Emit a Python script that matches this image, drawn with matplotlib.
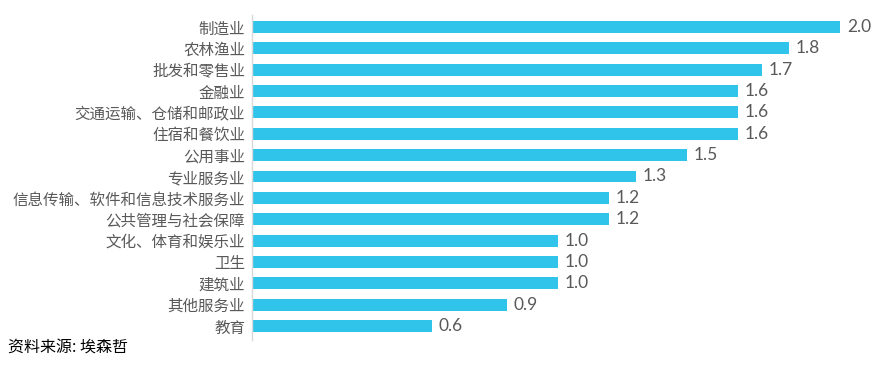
import matplotlib
matplotlib.use("Agg")
import matplotlib.pyplot as plt

plt.rcParams['font.family'] = ['Noto Sans CJK SC', 'DejaVu Sans']

# data (bar lengths, labels as printed)
industries = ["制造业", "农林渔业", "批发和零售业", "金融业", "交通运输、仓储和邮政业",
              "住宿和餐饮业", "公用事业", "专业服务业", "信息传输、软件和信息技术服务业",
              "公共管理与社会保障", "文化、体育和娱乐业", "卫生", "建筑业", "其他服务业", "教育"]
values = [1.96, 1.79, 1.70, 1.62, 1.62, 1.62, 1.45, 1.28, 1.19, 1.19,
          1.02, 1.02, 1.02, 0.85, 0.60]
value_labels = ["2.0", "1.8", "1.7", "1.6", "1.6", "1.6", "1.5", "1.3", "1.2", "1.2",
                "1.0", "1.0", "1.0", "0.9", "0.6"]

W, H = 882, 382
fig = plt.figure(figsize=(W / 100, H / 100), dpi=100)
ax = fig.add_axes([252 / W, 1 - 340 / H, 1 - 252 / W, (340 - 15) / H])

ypos = list(range(len(industries)))
ax.barh(ypos, values, height=0.56, color='#31c4ea')

ax.set_ylim(len(industries) - 1 + 0.655, -0.56)
ax.set_xlim(0, 2.1)

for y, v, lab in zip(ypos, values, value_labels):
    ax.annotate(lab, (v, y), xytext=(5, 0), textcoords='offset points',
                va='center', ha='left', fontsize=12.5, color='#595959',
                family=['Lato', 'DejaVu Sans'])

ax.set_yticks(ypos)
ax.set_yticklabels(industries, fontsize=11.2, color='#595959')
ax.tick_params(axis='y', length=0, pad=5)
ax.set_xticks([])

for s in ['top', 'right', 'bottom']:
    ax.spines[s].set_visible(False)
ax.spines['left'].set_color('#d9d9d9')
ax.spines['left'].set_linewidth(1)

fig.text(8 / W, 1 - 348 / H, "资料来源: 埃森哲", fontsize=11.5, fontweight='medium',
         color='#000000', ha='left', va='center')

fig.savefig("out.png", dpi=100)
